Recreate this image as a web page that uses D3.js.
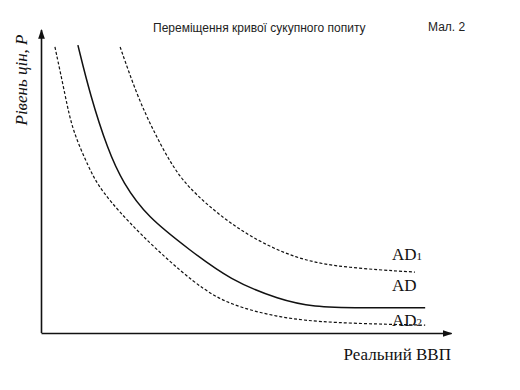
<!DOCTYPE html>
<html lang="uk">
<head>
  <meta charset="UTF-8">
  <title>AD shift</title>
  <script src="https://d3js.org/d3.v7.min.js"></script>
  <style>
    body { margin: 0; background: #fff; }
    .curve { fill: none; stroke: #111; }
  </style>
</head>
<body>
<div id="chart"></div>
<script>
  const ad2X = [0.34, 0.59, 0.76, 1.17, 1.44, 2.37, 3.80, 4.61, 5.83, 7.05, 9.37];
  const ad2Y = [9.44, 7.85, 6.70, 5.45, 4.72, 3.30, 1.55, 0.92, 0.50, 0.33, 0.26];
  const adX  = [0.90, 1.20, 1.63, 2.00, 2.59, 3.63, 4.61, 5.83, 6.63, 7.78, 9.37];
  const adY  = [9.50, 7.85, 6.04, 4.95, 3.83, 2.74, 1.75, 1.09, 0.86, 0.83, 0.83];
  const ad1X = [1.93, 2.34, 2.73, 3.22, 3.71, 4.85, 6.24, 7.46, 9.12];
  const ad1Y = [9.44, 7.85, 6.70, 5.45, 4.62, 3.33, 2.41, 2.15, 2.01];

  const curveNames = ["AD1", "AD", "AD2"];
  const titleText = "Переміщення кривої сукупного попиту";
  const figText = "Мал. 2";
  const yLabel = "Рівень цін, P";
  const xLabel = "Реальний ВВП";

  const width = 520, height = 390;
  const svg = d3.select("#chart").append("svg")
    .attr("width", width)
    .attr("height", height);

  const x = d3.scaleLinear().domain([0, 10]).range([41, 451]);
  const y = d3.scaleLinear().domain([0, 10]).range([333, 30]);

  // arrow head
  svg.append("defs").append("marker")
    .attr("id", "arrow")
    .attr("viewBox", "0 0 10 10")
    .attr("refX", 9).attr("refY", 5)
    .attr("markerWidth", 6).attr("markerHeight", 6)
    .attr("orient", "auto")
    .append("path")
    .attr("d", "M0,1.5 L10,5 L0,8.5 Z")
    .attr("fill", "#111");

  // axes without ticks, only the domain line
  const gx = svg.append("g")
    .attr("transform", `translate(0,${y(0)})`)
    .call(d3.axisBottom(x).tickValues([]).tickSizeOuter(0));
  const gy = svg.append("g")
    .attr("transform", `translate(${x(0)},0)`)
    .call(d3.axisLeft(y).tickValues([]).tickSizeOuter(0));
  gx.select(".domain").attr("stroke", "#111").attr("stroke-width", 1.6).attr("marker-end", "url(#arrow)");
  gy.select(".domain").attr("stroke", "#111").attr("stroke-width", 1.6)
    .attr("d", `M0.5,${y(0)}V${y(10)}`)
    .attr("marker-end", "url(#arrow)");

  // basis spline smooths out reading error between points
  const line = d3.line()
    .x(d => x(d[0]))
    .y(d => y(d[1]))
    .curve(d3.curveBasis);

  const series = [
    { pts: d3.zip(ad1X, ad1Y), dash: "3,2", w: 1.2 },
    { pts: d3.zip(adX, adY), dash: null, w: 1.5 },
    { pts: d3.zip(ad2X, ad2Y), dash: "3,2", w: 1.2 }
  ];

  svg.selectAll(".curve")
    .data(series)
    .enter().append("path")
    .attr("class", "curve")
    .attr("d", d => line(d.pts))
    .attr("stroke-width", d => d.w)
    .attr("stroke-dasharray", d => d.dash);

  // curve labels
  const labelPos = [[392, 260], [392, 291], [392, 326]];
  curveNames.forEach((name, i) => {
    const t = svg.append("text")
      .attr("x", labelPos[i][0]).attr("y", labelPos[i][1])
      .attr("font-family", "Liberation Serif, Times New Roman, serif")
      .attr("font-size", 17)
      .attr("fill", "#111");
    t.append("tspan").text(name.slice(0, 2));
    if (name.length > 2) {
      t.append("tspan").attr("font-size", 11).text(name.slice(2));
    }
  });

  // titles
  svg.append("text")
    .attr("x", 153).attr("y", 32)
    .attr("font-family", "Liberation Sans, Arial, sans-serif")
    .attr("font-size", 12)
    .attr("fill", "#222")
    .text(titleText);

  svg.append("text")
    .attr("x", 428).attr("y", 31)
    .attr("font-family", "Liberation Sans, Arial, sans-serif")
    .attr("font-size", 12)
    .attr("fill", "#222")
    .text(figText);

  svg.append("text")
    .attr("transform", "translate(27,80) rotate(-90)")
    .attr("text-anchor", "middle")
    .attr("font-family", "Liberation Serif, Times New Roman, serif")
    .attr("font-style", "italic")
    .attr("font-size", 17)
    .attr("fill", "#111")
    .text(yLabel);

  svg.append("text")
    .attr("x", 451).attr("y", 360)
    .attr("text-anchor", "end")
    .attr("font-family", "Liberation Serif, Times New Roman, serif")
    .attr("font-size", 17)
    .attr("fill", "#111")
    .text(xLabel);
</script>
</body>
</html>
